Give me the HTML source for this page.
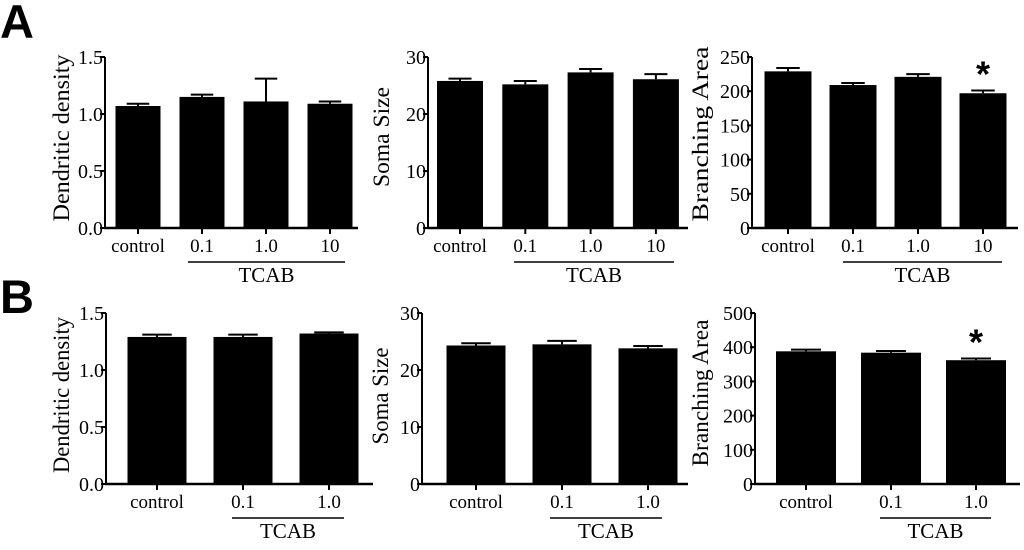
<!DOCTYPE html>
<html><head><meta charset="utf-8"><style>
body{margin:0;background:#fff;}
svg text{font-family:"Liberation Serif",serif;fill:#000;}
</style></head><body>
<svg id="fig" width="1024" height="545" viewBox="0 0 1024 545">
<text x="0" y="38" style="font-family:'Liberation Sans',sans-serif;font-weight:bold;font-size:47px">A</text>
<text x="0" y="313" style="font-family:'Liberation Sans',sans-serif;font-weight:bold;font-size:47px">B</text>
</svg>
<script>
const catsA = ["control","0.1","1.0","10"];
const catsB = ["control","0.1","1.0"];
const a1Vals = [1.07,1.15,1.11,1.09];
const a1Errs = [0.02,0.02,0.2,0.02];
const a2Vals = [25.8,25.2,27.3,26.1];
const a2Errs = [0.4,0.6,0.6,0.9];
const a3Vals = [229,209,221,197];
const a3Errs = [5,3,4,4];
const b1Vals = [1.29,1.29,1.32];
const b1Errs = [0.02,0.02,0.01];
const b2Vals = [24.3,24.5,23.8];
const b2Errs = [0.4,0.6,0.4];
const b3Vals = [388,384,362];
const b3Errs = [5,5,5];
const tickDD = ["0.0","0.5","1.0","1.5"];
const tickSoma = ["0","10","20","30"];
const tickBA1 = ["0","50","100","150","200","250"];
const tickBA2 = ["0","100","200","300","400","500"];
const starA = [false,false,false,true];
const starB = [false,false,true];

const NS="http://www.w3.org/2000/svg";
const svg=document.getElementById('fig');
function mk(t,a,p){const e=document.createElementNS(NS,t);for(const k in a)e.setAttribute(k,a[k]);(p||svg).appendChild(e);return e;}

function panel(o){
  const g=mk('g',{});
  
  
  const max=parseFloat(o.ticks[o.ticks.length-1]);
  const y=v=>o.y0-(v/max)*(o.y0-o.y1);
  const bw=o.bw, step=o.step;
  const cx=i=>o.firstC+i*step;
  const ya=mk('line',{x1:o.ax,y1:o.y1,x2:o.ax,y2:o.y0+1,stroke:'#000','stroke-width':2},g);
  
  
  const xa=mk('line',{x1:o.ax-1,y1:o.y0,x2:o.axEnd,y2:o.y0,stroke:'#000','stroke-width':2.5},g);
  
  
  o.ticks.forEach(t=>{
    const v=parseFloat(t), yy=y(v);
    mk('line',{x1:o.ax-5,y1:yy,x2:o.ax,y2:yy,stroke:'#000','stroke-width':2},g);
    const tx=mk('text',{x:o.ax-2,y:yy+7,'text-anchor':'end','font-size':20},g);
    tx.textContent=t;
    
    
  });
  o.cats.forEach((c,i)=>{
    const x=cx(i);
    mk('line',{x1:x,y1:o.y0,x2:x,y2:o.y0+6,stroke:'#000','stroke-width':2},g);
    const top=y(o.vals[i]), et=y(o.vals[i]+o.errs[i]);
    const e=mk('line',{x1:x,y1:top,x2:x,y2:et,stroke:'#000','stroke-width':2},g);
    
    
    mk('line',{x1:x-bw/4,y1:et,x2:x+bw/4,y2:et,stroke:'#000','stroke-width':2},g);
    const r=mk('rect',{x:x-bw/2,y:top,width:bw,height:o.y0-top,fill:'#000'},g);
    
    
    const l=mk('text',{x:x,y:o.y0+24,'text-anchor':'middle','font-size':19},g);
    l.textContent=c;
    
    
    if(o.stars[i]){
      const s=mk('text',{x:x,y:et-4,'text-anchor':'middle','font-size':36,style:"font-family:'Liberation Sans',sans-serif;font-weight:bold"},g);
      s.textContent='*';
      
      
    }
  });
  const ul=mk('line',{x1:o.ul[0],y1:o.y0+34,x2:o.ul[1],y2:o.y0+34,stroke:'#000','stroke-width':1.5},g);
  
  
  const tc=mk('text',{x:(o.ul[0]+o.ul[1])/2,y:o.y0+54,'text-anchor':'middle','font-size':21},g);
  tc.textContent='TCAB';
  
  
  const ty=o.titleY;
  const tt=mk('text',{x:o.titleX,y:ty,'text-anchor':'middle','font-size':23,textLength:o.titleLen,lengthAdjust:'spacingAndGlyphs',transform:`rotate(-90 ${o.titleX} ${ty})`},g);
  tt.textContent=o.title;
  
  
}
panel({name:'chart-a-dendritic',cats:catsA,vals:a1Vals,errs:a1Errs,ticks:tickDD,ax:105,axEnd:358,y0:228,y1:57,firstC:138,step:64,bw:45,ul:[188,345],titleX:69,titleY:138,titleLen:167,title:'Dendritic density',stars:[false,false,false,false]});
panel({name:'chart-a-soma',cats:catsA,vals:a2Vals,errs:a2Errs,ticks:tickSoma,ax:428,axEnd:688,y0:228,y1:57,firstC:460,step:65.3,bw:46,ul:[514,674],titleX:389,titleY:137,titleLen:100,title:'Soma Size',stars:[false,false,false,false]});
panel({name:'chart-a-branching',cats:catsA,vals:a3Vals,errs:a3Errs,ticks:tickBA1,ax:752,axEnd:1018,y0:228,y1:57,firstC:788,step:65,bw:47,ul:[843,1002],titleX:708,titleY:134,titleLen:175,title:'Branching Area',stars:starA});
panel({name:'chart-b-dendritic',cats:catsB,vals:b1Vals,errs:b1Errs,ticks:tickDD,ax:106,axEnd:373,y0:484,y1:313,firstC:157,step:86,bw:59,ul:[232,344],titleX:69,titleY:395,titleLen:156,title:'Dendritic density',stars:[false,false,false]});
panel({name:'chart-b-soma',cats:catsB,vals:b2Vals,errs:b2Errs,ticks:tickSoma,ax:422,axEnd:688,y0:484,y1:313,firstC:476,step:86,bw:59,ul:[550,662],titleX:388,titleY:396,titleLen:97,title:'Soma Size',stars:[false,false,false]});
panel({name:'chart-b-branching',cats:catsB,vals:b3Vals,errs:b3Errs,ticks:tickBA2,ax:755,axEnd:1020,y0:484,y1:313,firstC:806,step:85,bw:60,ul:[880,991],titleX:708,titleY:393,titleLen:147,title:'Branching Area',stars:starB});
</script>
</body></html>
